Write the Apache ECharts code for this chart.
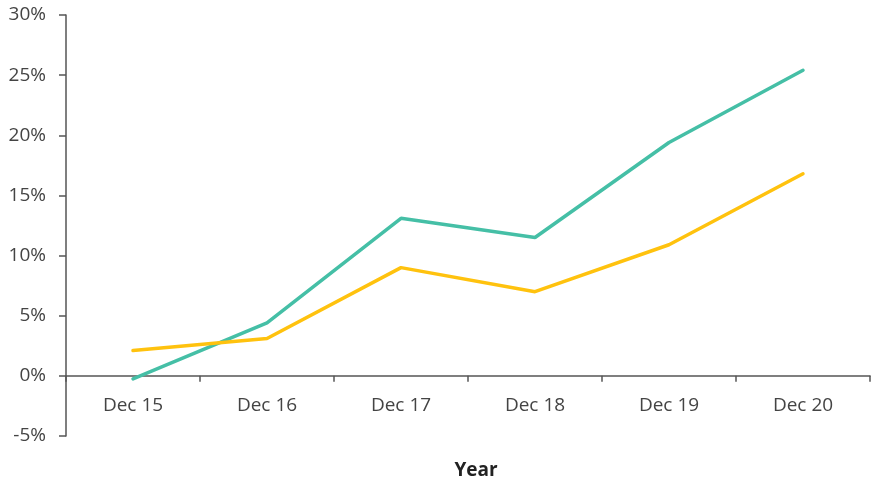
<!DOCTYPE html>
<html>
<head>
<meta charset="utf-8">
<script src="https://cdn.jsdelivr.net/npm/echarts@6/dist/echarts.min.js"></script>
<style>
  html, body { margin: 0; padding: 0; background: #fff; }
  #chart { width: 872px; height: 482px; }
</style>
</head>
<body>
<div id="chart"></div>
<script>
const categories = ['Dec 15', 'Dec 16', 'Dec 17', 'Dec 18', 'Dec 19', 'Dec 20'];
const tealValues = [-0.25, 4.4, 13.1, 11.5, 19.4, 25.4];
const yellowValues = [2.1, 3.1, 9.0, 7.0, 10.9, 16.8];
const yTicks = { min: -5, max: 30, step: 5 };

const axisColor = '#555';
const textColor = '#444';
const font = '"Open Sans", "Noto Sans", sans-serif';

const chart = echarts.init(document.getElementById('chart'));
// grid height 421px over 35 units: the zero line sits 5 units above the bottom
const zeroOffset = -(421 / (yTicks.max - yTicks.min)) * (0 - yTicks.min);

chart.setOption({
    backgroundColor: '#fff',
    animation: false,
    grid: { left: 66, right: 2, top: 15, bottom: 46, containLabel: false, outerBoundsMode: 'none' },
    xAxis: {
        type: 'category',
        data: categories,
        boundaryGap: true,
        position: 'bottom',
        offset: zeroOffset,
        name: 'Year',
        nameLocation: 'middle',
        nameGap: 85,
        nameTextStyle: { color: '#222', fontSize: 19, fontWeight: 'bold', fontFamily: font, padding: [0, 0, 0, 16] },
        axisLine: { onZero: false, lineStyle: { color: axisColor, width: 1.5 } },
        axisTick: { show: true, length: 6, alignWithLabel: false, lineStyle: { color: axisColor, width: 1.5 } },
        axisLabel: { color: textColor, fontSize: 19, fontFamily: font, margin: 20 },
        splitLine: { show: false }
    },
    yAxis: {
        type: 'value',
        min: yTicks.min,
        max: yTicks.max,
        interval: yTicks.step,
        axisLine: { show: true, lineStyle: { color: axisColor, width: 1.5 } },
        axisTick: { show: true, length: 7, lineStyle: { color: axisColor, width: 1.5 } },
        axisLabel: { color: textColor, fontSize: 19, fontFamily: font, margin: 20, formatter: '{value}%' },
        splitLine: { show: false }
    },
    series: [
        {
            name: 'Teal',
            type: 'line',
            data: tealValues,
            symbol: 'none',
            lineStyle: { color: '#45bfa6', width: 3.5, cap: 'round' },
            itemStyle: { color: '#45bfa6' }
        },
        {
            name: 'Yellow',
            type: 'line',
            data: yellowValues,
            symbol: 'none',
            lineStyle: { color: '#ffc20e', width: 3.5, cap: 'round' },
            itemStyle: { color: '#ffc20e' }
        }
    ]
});
</script>
</body>
</html>
